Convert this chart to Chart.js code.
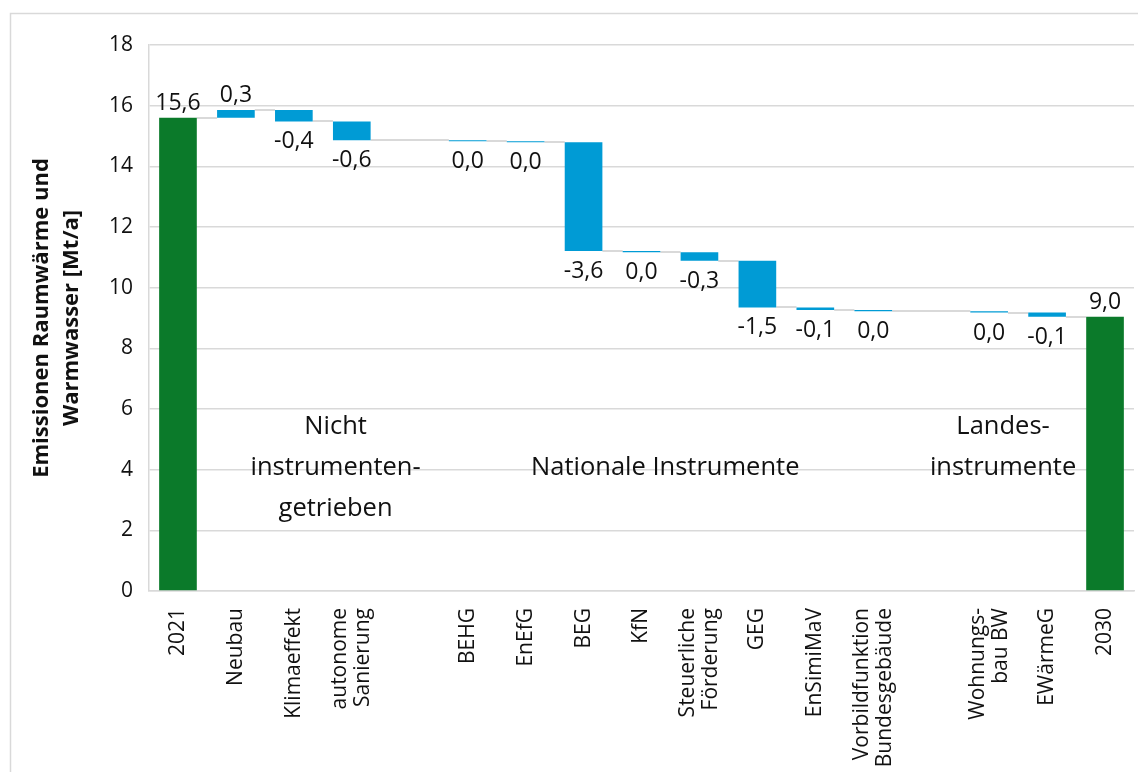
<!DOCTYPE html>
<html lang="de">
<head>
<meta charset="utf-8">
<title>Emissionen Raumwärme und Warmwasser</title>
<script src="https://cdn.jsdelivr.net/npm/chart.js@4.4.1/dist/chart.umd.min.js"></script>
<style>
    html, body { margin: 0; padding: 0; background: #fff; }
    #wrap { width: 1138px; height: 772px; }
</style>
</head>
<body>
<div id="wrap"><canvas id="waterfallChart" width="1138" height="772"></canvas></div>
<script>
// Kategorien ("" = Leerspalte zwischen den Gruppen)
const categories = [
    "2021", "Neubau", "Klimaeffekt", ["autonome", "Sanierung"], "",
    "BEHG", "EnEfG", "BEG", "KfN", ["Steuerliche", "Förderung"], "GEG",
    "EnSimiMaV", ["Vorbildfunktion", "Bundesgebäude"], "",
    ["Wohnungs-", "bau BW"], "EWärmeG", "2030",
];
// Emissionen 2021 in Mt/a
const startValue = 15.6;
// Veränderung je Einflussfaktor (Neubau ... EWärmeG), null = Leerspalte
const changes = [
    0.26, -0.38, -0.62, null,
    -0.03, -0.04, -3.58, -0.04, -0.28, -1.54, -0.09, -0.04, null,
    -0.04, -0.14,
];
const yTicks = [0, 2, 4, 6, 8, 10, 12, 14, 16, 18];
const groupLabels = [
    { lines: ["Nicht", "instrumenten-", "getrieben"], x: 2.72, y: 5.4 },
    { lines: ["Nationale Instrumente"], x: 8.41, y: 4.05 },
    { lines: ["Landes-", "instrumente"], x: 14.24, y: 5.4 },
];

const GREEN = "#0b7a2a";
const BLUE = "#009bd5";
const GRID = "#d9d9d9";
const TEXT = "#111";
const FONT = "'Open Sans', sans-serif";

// Wasserfall aufbauen: [unten, oben] je Balken, gerechnet in Hundertsteln
const barRanges = [[0, startValue]];
const barValues = [startValue];
const barColors = [GREEN];
const levels = [startValue];
let level = Math.round(startValue * 100);
changes.forEach((c) => {
    if (c === null) {
        barRanges.push(null);
        barValues.push(null);
        barColors.push(BLUE);
        levels.push(null);
        return;
    }
    const next = level + Math.round(c * 100);
    barRanges.push([Math.min(level, next) / 100, Math.max(level, next) / 100]);
    barValues.push(c);
    barColors.push(BLUE);
    levels.push(next / 100);
    level = next;
});
const endValue = level / 100;
barRanges.push([0, endValue]);
barValues.push(endValue);
barColors.push(GREEN);
levels.push(endValue);

function formatValue(v) {
    const r = Math.round(v * 10) / 10;
    if (Math.abs(r) < 0.05) return "0,0";
    return r.toFixed(1).replace(".", ",");
}

const framePlugin = {
    id: "frame",
    beforeDraw(chart) {
        const c = chart.ctx;
        c.save();
        c.fillStyle = "#fff";
        c.fillRect(0, 0, chart.width, chart.height);
        c.strokeStyle = GRID;
        c.lineWidth = 1.5;
        c.strokeRect(10.5, 13.5, chart.width + 20, chart.height + 20);
        c.restore();
    },
};

// graue Verbindungslinien zwischen den Balken
const connectorPlugin = {
    id: "connectors",
    beforeDatasetsDraw(chart) {
        const meta = chart.getDatasetMeta(0);
        const y = chart.scales.y;
        const c = chart.ctx;
        c.save();
        c.strokeStyle = GRID;
        c.lineWidth = 2;
        let prev = null;
        meta.data.forEach((bar, i) => {
            if (barRanges[i] === null) return;
            if (prev !== null) {
                const pb = meta.data[prev];
                const py = Math.round(y.getPixelForValue(levels[prev]));
                c.beginPath();
                c.moveTo(pb.x + pb.width / 2, py);
                c.lineTo(bar.x - bar.width / 2, py);
                c.stroke();
            }
            prev = i;
        });
        c.restore();
    },
};

const valueLabelPlugin = {
    id: "valueLabels",
    afterDatasetsDraw(chart) {
        const meta = chart.getDatasetMeta(0);
        const c = chart.ctx;
        c.save();
        c.font = "23px " + FONT;
        c.fillStyle = TEXT;
        c.textAlign = "center";
        meta.data.forEach((bar, i) => {
            const v = barValues[i];
            if (v === null) return;
            const isTotal = i === 0 || i === barValues.length - 1;
            const top = Math.min(bar.y, bar.base);
            const bottom = Math.max(bar.y, bar.base);
            if (isTotal || v > 0) {
                c.textBaseline = "bottom";
                c.fillText(formatValue(v), bar.x, top - 3);
            } else {
                c.textBaseline = "top";
                c.fillText(formatValue(v), bar.x, bottom + 9);
            }
        });
        c.restore();
    },
};

// senkrechte Kategorienbeschriftung, mehrzeilig um die Balkenmitte zentriert
const categoryLabelPlugin = {
    id: "categoryLabels",
    afterDraw(chart) {
        const x = chart.scales.x;
        const c = chart.ctx;
        const lineHeight = 23;
        c.save();
        c.font = "21px " + FONT;
        c.fillStyle = TEXT;
        c.textAlign = "right";
        c.textBaseline = "middle";
        categories.forEach((cat, i) => {
            const lines = Array.isArray(cat) ? cat : [cat];
            c.save();
            c.translate(x.getPixelForTick(i), chart.chartArea.bottom + 17);
            c.rotate(-Math.PI / 2);
            lines.forEach((line, k) => {
                c.fillText(line, 0, (k - (lines.length - 1) / 2) * lineHeight);
            });
            c.restore();
        });
        c.restore();
    },
};

const groupLabelPlugin = {
    id: "groupLabels",
    afterDatasetsDraw(chart) {
        const { x, y } = chart.scales;
        const c = chart.ctx;
        c.save();
        c.font = "25.5px " + FONT;
        c.fillStyle = TEXT;
        c.textAlign = "center";
        c.textBaseline = "middle";
        groupLabels.forEach((g) => {
            const px = x.getPixelForValue(g.x);
            let py = y.getPixelForValue(g.y);
            g.lines.forEach((line) => {
                c.fillText(line, px, py);
                py += 41;
            });
        });
        c.restore();
    },
};

const ctx = document.getElementById("waterfallChart").getContext("2d");
new Chart(ctx, {
    type: "bar",
    data: {
        labels: categories,
        datasets: [
            {
                data: barRanges,
                backgroundColor: barColors,
                barPercentage: 0.65,
                categoryPercentage: 1,
                borderSkipped: false,
                minBarLength: 1,
            },
        ],
    },
    options: {
        responsive: false,
        animation: false,
        layout: { padding: { top: 45, right: 4, left: 0, bottom: 0 } },
        plugins: {
            legend: { display: false },
            tooltip: { enabled: false },
        },
        scales: {
            x: {
                grid: { display: false },
                border: { color: GRID, width: 1.5 },
                ticks: { display: false },
                afterFit(scale) {
                    scale.height = 181;
                },
            },
            y: {
                min: 0,
                max: 18,
                afterBuildTicks(scale) {
                    scale.ticks = yTicks.map((v) => ({ value: v }));
                },
                grid: { color: GRID, lineWidth: 1.5, drawTicks: false },
                border: { color: GRID, width: 1.5 },
                ticks: {
                    padding: 16,
                    color: TEXT,
                    font: { family: FONT, size: 21 },
                },
                title: {
                    display: true,
                    text: ["Emissionen Raumwärme und", "Warmwasser [Mt/a]"],
                    color: TEXT,
                    font: { family: FONT, size: 22, weight: "bold", lineHeight: 1.36 },
                    padding: { top: 27, bottom: 0 },
                },
                afterFit(scale) {
                    scale.width = 149;
                },
            },
        },
    },
    plugins: [framePlugin, connectorPlugin, valueLabelPlugin, categoryLabelPlugin, groupLabelPlugin],
});
</script>
</body>
</html>
